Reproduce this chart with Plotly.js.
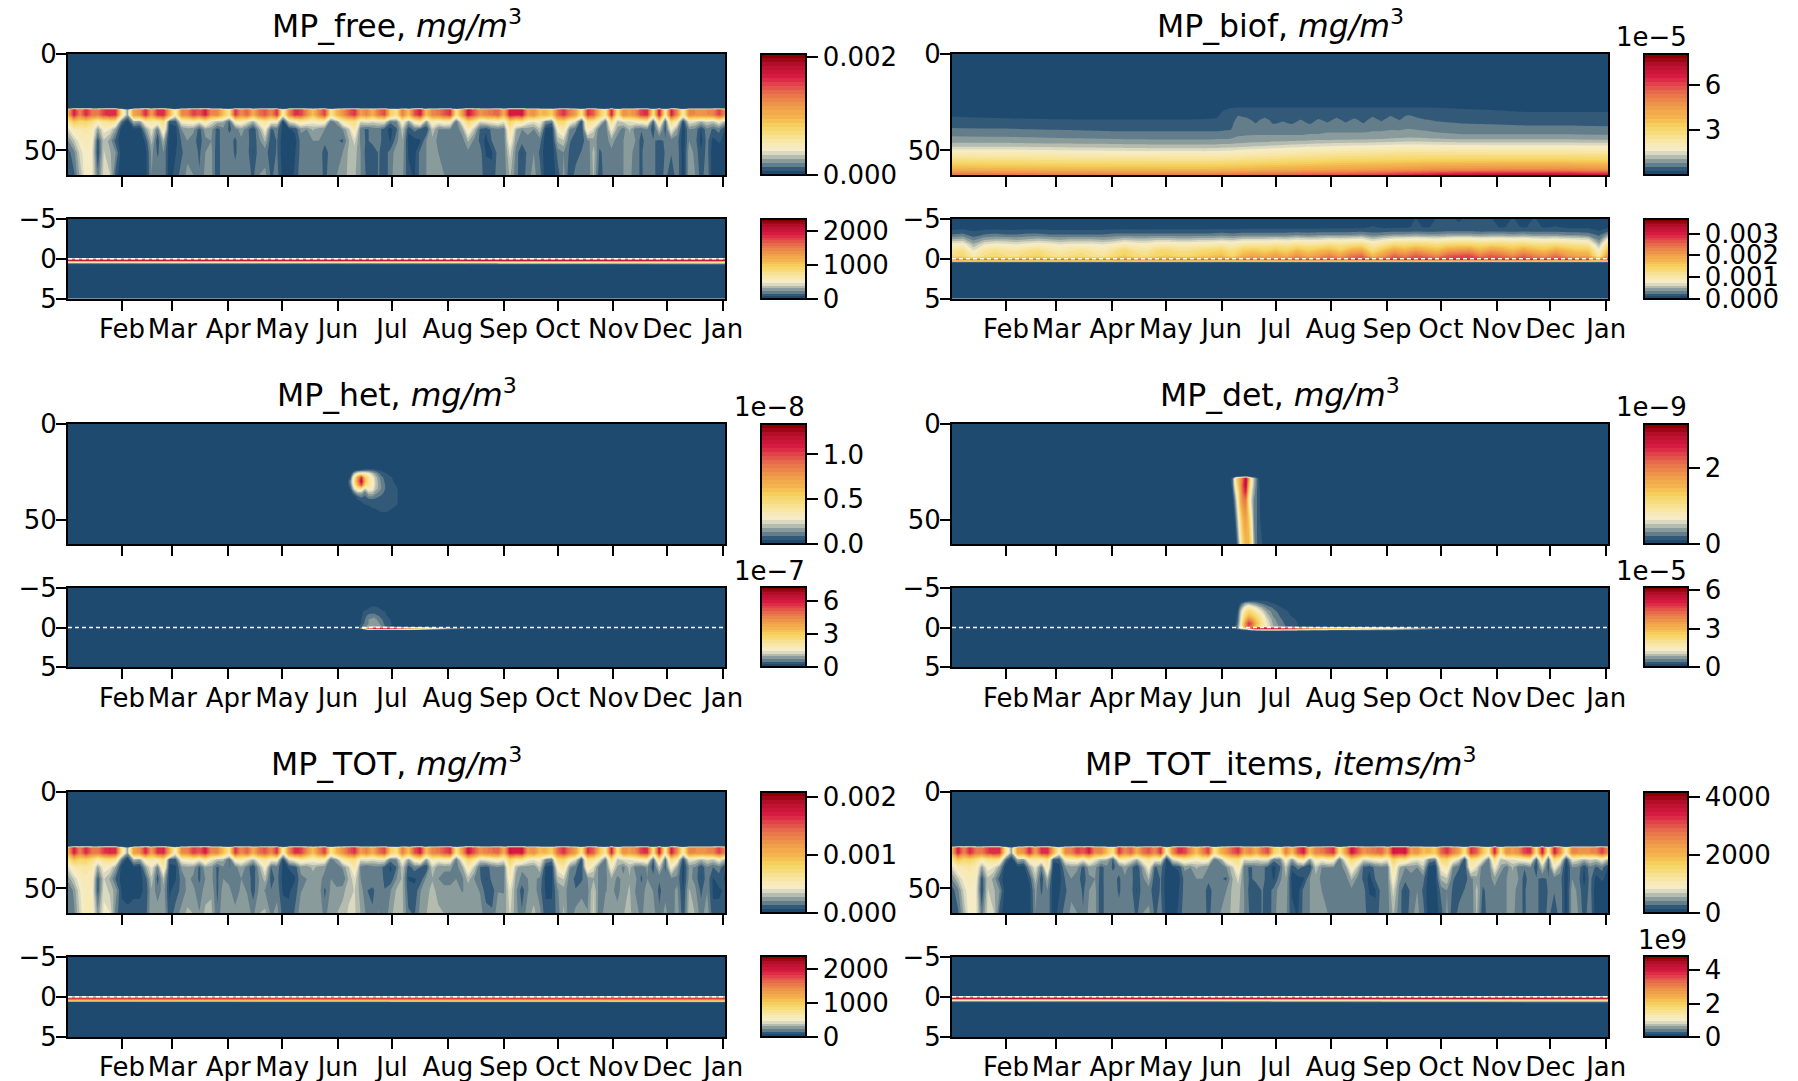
<!DOCTYPE html>
<html><head><meta charset="utf-8">
<script src="https://cdn.plot.ly/plotly-3.0.1.min.js"></script>
<style>html,body{margin:0;padding:0;background:#fff}#c{width:1798px;height:1081px}</style></head>
<body><div id="c"></div>
<script>
// ---------- axis labels ----------
const monthDays=[31,59,90,120,151,181,212,243,273,304,334,365];
const monthNames=['Feb','Mar','Apr','May','Jun','Jul','Aug','Sep','Oct','Nov','Dec','Jan'];

// ---------- water-column MP_free: percent of colour-bar top, 111 time columns ----------
const freeDepths=[0,28.2,29,31.6,35,39,45,51,62.7];
const free30=[50,82,62,80,66,64,76,80,78,30,12,55,58,80,55,78,80,50,22,60,62,76,70,82,60,62,45,30,78,60,70,50,66,72,60,78,22,60,
78,76,60,45,62,76,30,48,58,70,78,55,62,50,66,74,40,32,64,45,72,82,45,62,64,72,78,30,55,84,72,58,62,66,70,50,
84,80,84,55,60,46,48,40,68,78,64,55,30,78,70,45,28,82,30,60,55,60,76,78,30,84,25,82,60,25,62,60,58,60,62,76,60];
const free33=[30,45,38,40,34,25,32,34,30,8,1,14,12,26,28,26,34,4,5,22,24,26,20,30,20,15,14,6,24,26,20,14,24,30,22,22,2,18,
22,28,25,22,26,24,8,12,26,32,34,18,20,18,20,20,8,10,24,12,24,30,12,26,22,26,24,8,22,38,30,18,20,22,24,20,
40,30,32,22,20,22,10,8,36,38,24,18,4,32,30,20,8,34,16,18,20,22,24,26,6,34,6,36,24,3,20,18,14,18,16,22,14];
const free37=[18,26,27,28,26,12,22,20,12,1,0,2,1,12,20,8,28,2,2,10,12,11,5,12,11,5,9,6,8,12,8,3,12,22,6,8,2,3,
4,11,10,14,11,10,7,7,10,16,28,8,6,8,8,5,2,6,16,4,8,6,3,16,10,10,10,8,12,26,16,6,4,8,9,8,
30,14,10,11,10,16,2,1,22,28,10,7,3,26,18,7,7,22,12,8,14,8,7,10,4,16,5,22,12,1,10,9,3,9,6,8,3];
const free43=[10,16,22,25,23,4,16,12,5,1,0,1,1,4,15,4,14,1,2,7,10,8,5,9,10,5,9,8,6,9,8,4,9,14,4,7,1,1,
2,8,9,10,10,8,9,7,6,13,18,9,6,8,8,5,3,9,13,2,2,3,10,12,9,8,8,9,8,14,9,6,2,7,8,8,
24,11,8,9,10,8,1,1,14,16,7,5,5,9,12,8,8,12,8,10,12,10,5,9,7,6,7,8,8,1,10,8,2,8,2,4,2];
const free50=[5,9,18,23,21,3,17,14,10,1,0,1,1,2,11,6,10,1,3,6,9,9,6,10,11,4,10,9,6,9,8,3,9,8,5,7,1,1,
3,8,9,9,10,4,9,9,10,14,15,10,5,4,7,5,8,12,12,3,2,8,10,13,10,9,9,9,8,9,9,8,3,3,8,8,
18,9,3,8,10,6,1,1,8,10,6,5,7,7,15,6,8,9,7,10,12,8,6,10,8,4,7,7,9,1,12,9,4,8,1,1,2];
const free62=[4,6,14,23,21,8,18,17,5,1,1,1,1,2,10,9,10,1,5,8,11,10,7,11,11,4,10,10,8,10,8,6,10,11,6,8,2,1,
4,9,10,10,10,5,10,10,12,14,14,10,6,4,7,4,9,12,11,4,3,8,10,12,11,10,10,10,9,9,9,8,5,4,9,8,
14,8,4,9,11,8,1,1,5,11,4,8,9,7,14,4,9,9,8,10,11,8,6,9,8,4,8,4,9,1,12,10,5,9,1,1,2];
const blank111=free30.map(()=>0);
const freeRows=[blank111,blank111,free30,free30,free33,free37,free43,free50,free62];
const freeDays=free30.map((_,i)=>1+i*365/110);
// biofilm mass added to the total in each row (percent of bar top)
const totExtra=[0,0,0.2,0.2,0.4,0.6,1,1.8,3.2];

// ---------- sediment MP_free / MP_TOT: percent ----------
const surfDays=[1,60,120,180,240,300,366];
const surfDepths=[-5,-0.05,0,0.1,0.2,0.3,0.4,0.5,0.65,0.8,1,5];
const surfFree=[[0,0,0,0,0,0,0],[0,0,0,0,0,0,0],[20,20,20,20,20,20,20],[68,68,68,68,68,68,68],[93,93,93,93,93,93,93],[55,55,56,56,57,57,58],[32,33,34,35,36,37,38],[18,19,20,21,22,23,24],[4,5,5,6,7,7,8],[1,1.5,1.5,2,2.5,3,3.5],[0,0,0,0,0,0,0],[0,0,0,0,0,0,0]];
const surfTot=[[0,0,0,0,0,0,0],[0,0,0,0,0,0,0],[20,20,20,20,20,20,20],[62,62,62,62,62,62,62],[80,80,80,80,80,80,80],[68,68,68,68,68,68,68],[58,58,58,58,59,59,59],[25,26,26,27,27,28,28],[3,4,5,5,6,6,7],[0.5,1,1,1.5,2,2,2.5],[0,0,0,0,0,0,0],[0,0,0,0,0,0,0]];

// ---------- water-column MP_biof: units of 1e-5 ----------
const biofDays=[1,30,60,90,120,140,148,152,156,160,165,170,175,180,185,190,195,200,205,210,215,220,225,230,235,240,245,250,255,260,265,270,285,300,320,345,366];
const biofDepths=[0,26,28,30,32,34,36,38,40,42,44,46,48,50,55,60,62.7];
const biof0=biofDays.map(()=>0.05), biof26=biofDays.map(()=>0.1);
const biof28=[.1,.1,.1,.1,.1,.1,.1,.2,.27,.3,.3,.3,.3,.3,.3,.3,.3,.3,.3,.3,.3,.3,.3,.3,.3,.3,.3,.3,.3,.3,.3,.28,.25,.22,.18,.16,.16];
const biof30=[.14,.13,.12,.12,.12,.13,.15,.3,.35,.38,.36,.35,.36,.35,.35,.35,.35,.36,.35,.35,.36,.36,.36,.36,.37,.37,.38,.38,.39,.38,.36,.35,.33,.32,.27,.27,.27];
const biof32=[.25,.22,.2,.18,.18,.2,.22,.36,.4,.54,.48,.42,.46,.42,.41,.42,.41,.44,.41,.43,.47,.44,.46,.43,.5,.47,.54,.5,.56,.5,.47,.45,.42,.4,.37,.35,.35];
const biof34=[.33,.3,.28,.27,.27,.28,.3,.38,.42,.6,.6,.46,.62,.44,.5,.44,.54,.44,.56,.46,.6,.46,.58,.44,.64,.48,.68,.52,.7,.58,.54,.5,.46,.44,.42,.4,.4];
const biof36=[.43,.41,.38,.36,.36,.37,.39,.42,.45,.68,.66,.54,.66,.52,.58,.52,.62,.52,.62,.56,.66,.56,.64,.54,.7,.6,.72,.62,.76,.68,.64,.6,.54,.52,.49,.49,.47];
const biof38=[.52,.5,.47,.45,.45,.46,.47,.48,.49,.71,.7,.67,.7,.66,.64,.66,.64,.68,.64,.67,.7,.68,.7,.68,.72,.7,.74,.72,.77,.75,.72,.69,.64,.62,.59,.59,.57];
const biof40=[.64,.62,.58,.54,.54,.54,.54,.55,.56,.75,.75,.73,.75,.73,.71,.73,.71,.74,.74,.78,.78,.78,.78,.78,.81,.81,.84,.84,.88,.84,.82,.78,.71,.71,.71,.71,.68];
const biof42=[.77,.75,.71,.68,.64,.64,.66,.66,.68,.78,.8,.81,.81,.81,.81,.81,.81,.84,.84,.87,.87,.87,.87,.87,.9,.9,.94,.94,.97,.94,.92,.9,.84,.84,.84,.84,.82];
const biof44=[.9,.88,.84,.81,.78,.78,.8,.8,.82,.88,.9,.92,.92,.94,.95,.95,.96,.98,1,1,1.02,1.02,1.04,1.04,1.06,1.08,1.1,1.12,1.14,1.14,1.12,1.1,1.05,1.05,1.05,1.05,1];
const biof46=[1.08,1.08,1.02,1,.97,.97,.98,1,1,1.04,1.08,1.1,1.12,1.14,1.16,1.2,1.22,1.24,1.28,1.3,1.32,1.34,1.36,1.36,1.38,1.4,1.42,1.44,1.46,1.46,1.44,1.42,1.38,1.38,1.38,1.38,1.35];
const biof48=[1.35,1.35,1.3,1.25,1.2,1.2,1.22,1.24,1.26,1.3,1.34,1.38,1.4,1.44,1.48,1.52,1.56,1.6,1.62,1.66,1.68,1.7,1.72,1.74,1.76,1.78,1.8,1.82,1.84,1.84,1.82,1.8,1.78,1.76,1.76,1.76,1.72];
const biof50=[1.7,1.7,1.65,1.6,1.55,1.55,1.57,1.6,1.62,1.68,1.72,1.76,1.8,1.84,1.88,1.92,1.96,2,2.02,2.06,2.08,2.1,2.14,2.16,2.18,2.2,2.22,2.24,2.26,2.26,2.24,2.22,2.2,2.18,2.18,2.16,2.12];
const biof55=[2.8,2.75,2.7,2.65,2.62,2.6,2.62,2.64,2.66,2.7,2.74,2.78,2.82,2.86,2.9,2.94,2.98,3,3.04,3.06,3.1,3.12,3.14,3.16,3.18,3.2,3.22,3.24,3.26,3.28,3.3,3.3,3.3,3.3,3.3,3.3,3.25];
const biof60=[4.1,4,3.95,3.9,3.9,3.9,3.9,3.92,3.94,4,4.02,4.06,4.1,4.14,4.18,4.22,4.26,4.3,4.32,4.36,4.4,4.42,4.46,4.5,4.54,4.58,4.62,4.66,4.7,4.74,4.8,4.85,4.9,4.95,5,4.95,4.8];
const biof63=[5.4,5.3,5.2,5.2,5.2,5.2,5.25,5.3,5.3,5.4,5.4,5.45,5.5,5.55,5.6,5.65,5.7,5.75,5.8,5.85,5.9,5.95,6,6.05,6.1,6.2,6.3,6.4,6.5,6.6,6.7,6.8,7,7.1,7.2,7.1,6.8];
const biofRows=[biof0,biof26,biof28,biof30,biof32,biof34,biof36,biof38,biof40,biof42,biof44,biof46,biof48,biof50,biof55,biof60,biof63];

// ---------- sediment MP_biof: percent, 62 time columns ----------
const sedDays=[1,7,13,19,25,31,37,43,49,55,61,67,73,79,85,91,97,103,109,115,121,127,133,139,145,151,157,163,169,175,181,187,193,199,205,211,217,223,229,235,241,247,253,259,265,271,277,283,289,295,301,307,313,319,325,331,337,343,349,355,361,366];
const sedDepths=[-5,-4,-3.6,-3,-2.4,-1.8,-1,-0.3,0,0.12,0.25,0.45,0.6,5];
const sedM5=[0,0,0,0,0,0,0,0,0,0,0,0,0,0,0,0,0,0,0,0,0,0,0,0,0,0,0,0,0,0,0,0,0,0,0,0,0,0,0,2,0,0,0,3.6,0,4,4,3,4,4,3.8,0,4,0,4,0,2,0,0,0,0,0];
const sedM4=[2.5,2.5,2.5,2.5,2.5,2.5,2.5,2.5,2.5,2.5,2.5,2.5,2.5,2.5,2.5,2.5,2.5,2.5,2.5,2.5,2.5,2.5,2.5,2.5,2.5,2.5,2.5,2.5,2.5,2.5,2.5,2.5,2.5,2.5,2.5,2.5,2.5,2.5,2.5,3.6,2.8,2.8,2.8,3.8,3,4,4,3.8,4,4,4,3,4,3,4,3,3.5,2.8,2.8,2.8,2.8,2.8];
const sedM36=[3.4,3.6,3,3.4,3.5,3.4,3.4,3.5,3.5,3.4,3.4,3.4,3.4,3.4,3.4,3.5,3.6,3.5,3.5,3.6,3.6,3.6,3.6,3.6,3.7,3.8,3.7,3.8,3.9,3.9,4,4,4,4,4,4.2,4.2,4.2,4.4,4.2,4.2,4.4,4.4,4.6,4.6,4.6,4.8,4.8,4.8,4.6,4.6,4.6,4.4,4.6,4.4,4.4,4.4,4.2,4.2,4,3,4.4];
const sedM30=[7,8,5,7,8,7,7,8,8,7,7,7,7,7,7,8,8,8,8,8,8,8,8,8,8,9,8,9,9,9,9,9,10,9,10,10,10,10,11,9,10,11,11,12,11,11,12,12,12,11,12,12,11,12,11,11,11,10,10,9,6,12];
const sedM24=[14,15,9,13,14,14,13,14,15,14,13,14,14,14,13,14,16,15,15,16,16,15,15,16,16,17,16,18,18,18,19,18,20,19,19,21,20,21,22,17,20,23,23,24,23,22,24,25,25,23,24,24,23,24,22,21,22,21,20,19,9,22];
const sedM18=[22,23,14,20,22,21,20,22,23,22,20,21,21,21,20,22,25,23,22,25,25,24,24,25,25,27,25,28,29,29,30,29,31,30,30,33,31,33,35,27,31,36,35,37,36,34,37,38,38,36,37,37,35,37,34,33,35,33,31,29,14,34];
const sedM10=[30,34,20,30,33,30,29,33,35,30,27,30,32,29,26,32,38,32,30,36,37,33,33,36,38,40,33,42,44,40,45,40,48,42,46,50,42,52,54,36,46,56,50,58,52,48,56,58,60,50,58,54,48,56,50,46,54,48,44,44,22,48];
const sedM03=[34,38,26,34,37,34,33,37,40,34,31,34,36,33,30,36,42,36,34,40,42,38,38,42,44,47,38,50,54,50,56,50,60,52,58,64,55,66,70,48,58,70,64,72,68,62,72,74,76,66,72,68,62,70,64,60,68,58,54,54,28,60];
const sedZero=[50,52,45,50,52,50,50,52,52,50,50,50,52,50,50,52,55,52,52,55,55,55,55,55,55,58,55,60,62,62,62,62,65,65,65,68,66,70,72,64,68,72,72,74,74,72,74,76,76,74,74,74,72,74,72,70,72,70,68,66,50,70];
const sedP12=[72,74,70,72,74,72,72,72,74,72,72,72,72,72,72,74,74,74,74,74,74,74,74,76,76,76,76,78,78,78,80,80,80,80,82,82,82,84,85,82,84,85,85,86,86,85,86,87,87,86,86,86,85,86,85,84,85,84,83,82,70,84];
const sedP25=sedDays.map(()=>24), sedP45=sedDays.map(()=>6), sedP60=sedDays.map(()=>0), sedP500=sedDays.map(()=>0);
const sedRows=[sedM5,sedM4,sedM36,sedM30,sedM24,sedM18,sedM10,sedM03,sedZero,sedP12,sedP25,sedP45,sedP60,sedP500];

// ---------- MP_het: percent ----------
const hetDays=[1,156,158,160,162,164,166,168,170,172,175,178,181,184,187,366];
const hetDepths=[0,22,24,26,28,30,32,34,36,38,40,42,44,46,48,62.7];
const hetRows=[
[0,0,0,0,0,0,0,0,0,0,0,0,0,0,0,0],[0,0,0,0,0,0,0,0,0,0,0,0,0,0,0,0],
[0,0,0,0,2,3,4,4,4,3.5,2.5,0,0,0,0,0],
[0,0,1,14,22,25,24,22,16,11,5,3.4,0,0,0,0],
[0,0,5,28,55,80,42,30,22,15,8,4.5,3.4,0,0,0],
[0,1,10,30,60,90,48,32,24,16,9,5,3.8,1.5,0,0],
[0,1,8,26,50,75,38,30,24,16,10,5.5,4,3,0,0],
[0,0,4,18,28,30,16,24,22,15,10,5.5,4,3.4,0,0],
[0,0,1,8,14,14,8,15,15,11,8,5,4,3.5,1,0],
[0,0,0,2,6,8,6,10,10,8,6,5,4,3.6,1,0],
[0,0,0,0,3,4,4.5,4.8,5,5,5,4.5,3.8,3.5,1,0],
[0,0,0,0,0,2,3.5,4,4.2,4.4,4.5,4.2,3.8,3.4,.5,0],
[0,0,0,0,0,0,1,2,3.4,3.7,3.8,3.8,3.5,2.5,0,0],
[0,0,0,0,0,0,0,0.5,1,2,3.4,3.4,2.5,0.5,0,0],
[0,0,0,0,0,0,0,0,0,0,0,0,0,0,0,0],[0,0,0,0,0,0,0,0,0,0,0,0,0,0,0,0]];
const hetSedDays=[1,162,165,168,171,174,177,180,183,187,192,197,203,209,220,231,240,366];
const hetSedDepths=[-5,-3,-2.6,-2,-1.5,-1,-0.5,-0.1,0.02,0.1,0.2,0.35,5];
const hetSedRows=[
[0,0,0,0,0,0,0,0,0,0,0,0,0,0,0,0,0,0],[0,0,0,0,0,0,0,0,0,0,0,0,0,0,0,0,0,0],
[0,0,1,3,3.6,3,1,0,0,0,0,0,0,0,0,0,0,0],
[0,0,3.5,4,4.5,4,3.5,1,0,0,0,0,0,0,0,0,0,0],
[0,0,4,8,9,6,4,2,0,0,0,0,0,0,0,0,0,0],
[0,0,5,10,11,9,5,3.5,1,0,0,0,0,0,0,0,0,0],
[0,0,6,10,12,10,6,4,1,0,0,0,0,0,0,0,0,0],
[0,2,8,12,14,12,7,4,1,0,0,0,0,0,0,0,0,0],
[0,2,14,40,50,50,50,45,40,35,28,20,12,8,3,1,0,0],
[0,1,25,80,90,90,92,90,85,75,60,45,30,20,8,3.5,1,0],
[0,0,10,40,45,45,46,45,42,38,30,22,15,10,4,1.5,0,0],
[0,0,0,0,0,0,0,0,0,0,0,0,0,0,0,0,0,0],[0,0,0,0,0,0,0,0,0,0,0,0,0,0,0,0,0,0]];

// ---------- MP_det: percent ----------
const detDays=[1,155,157,158.5,160,161.5,163,164.5,166,167.5,169,170.5,172,173.5,175,366];
const detDepths=[0,27.5,28.5,32,36,40,50,62.7];
const detRows=[
[0,0,0,0,0,0,0,0,0,0,0,0,0,0,0,0],[0,0,0,0,0,0,0,0,0,0,0,0,0,0,0,0],
[0,0,6,25,45,55,70,90,60,25,15,8,3,0,0,0],
[0,0,5,22,40,55,75,90,50,24,14,8,3.5,0,0,0],
[0,0,3,15,30,52,70,80,40,20,12,7,4,1,0,0],
[0,0,1,10,24,50,62,65,32,18,10,7,4,1,0,0],
[0,0,0,4,16,34,50,55,45,25,10,7,4,2,0,0],
[0,0,0,0,8,22,40,48,50,35,12,7,4.5,3.5,0,0]];
const detSedDays=[1,158,160,162,164,166,168,170,173,176,180,184,188,193,200,210,225,240,255,270,290,366];
const detSedDepths=[-5,-3.6,-3.3,-3,-2.5,-2,-1.5,-1,-0.5,-0.1,0.1,0.25,0.4,5];
const detSedRows=[
[0,0,0,0,0,0,0,0,0,0,0,0,0,0,0,0,0,0,0,0,0,0],[0,0,0,0,0,0,0,0,0,0,0,0,0,0,0,0,0,0,0,0,0,0],
[0,0,0,1,3,4,5,5,4,3.4,2,0,0,0,0,0,0,0,0,0,0,0],
[0,0,0,6,12,14,12,10,7,5,3.5,1.5,0,0,0,0,0,0,0,0,0,0],
[0,0,2,12,22,28,24,20,14,9,6,3.5,1.5,0,0,0,0,0,0,0,0,0],
[0,0,3.5,18,30,38,34,28,20,13,8,5,3.5,0,0,0,0,0,0,0,0,0],
[0,0,5,20,36,46,42,36,26,16,9,6,4,1.5,0,0,0,0,0,0,0,0],
[0,0,6,22,45,62,55,44,30,19,11,7,5,3,0,0,0,0,0,0,0,0],
[0,0,8,24,55,78,70,50,34,21,12,8,5,3.5,0,0,0,0,0,0,0,0],
[0,2,10,26,55,75,60,45,30,21,13,9,5.5,3.5,1,0,0,0,0,0,0,0],
[0,0,12,20,25,40,80,90,92,92,92,90,85,80,65,55,40,30,20,8,3.4,0],
[0,0,4,8,10,16,32,40,44,44,44,44,42,40,32,26,20,15,10,4,1.5,0],
[0,0,0,0,0,0,0,0,0,0,0,0,0,0,0,0,0,0,0,0,0,0],[0,0,0,0,0,0,0,0,0,0,0,0,0,0,0,0,0,0,0,0,0,0]];

// ---------- colours ----------
const palette=[[0,'#1f4a70'],[0.03,'#2a5275'],[0.05,'#4f6f84'],[0.085,'#73898f'],[0.125,'#a5b1a9'],[0.17,'#d9d9bf'],[0.21,'#f7eec8'],[0.28,'#f8e6a3'],[0.40,'#f6d45f'],[0.47,'#f4b850'],[0.57,'#ef9a4a'],[0.68,'#e76f4b'],[0.76,'#e0404a'],[0.82,'#d81b42'],[0.92,'#b81030'],[1,'#8b0000']];
const dark='#1f4a70', fontName='"DejaVu Sans", sans-serif', tickSize=26;

// ---------- page geometry (pixels) ----------
const W=1798,H=1081;
const colX=[[68,725,761,805.5],[952,1608,1644,1688]];
const rowY=[[54,175,219,298.5],[423.7,544,587.7,667.3],[792,913,956.5,1037]];

const scale=(rows,k,extra)=>rows.map((r,i)=>r.map(v=>(v+(extra?extra[i]:0))*k));
const panels=[
 {c:0,r:0,title:'MP_free, <i>mg/m</i><sup>3</sup>',
  up:{x:freeDays,y:freeDepths,z:scale(freeRows,0.002056/100),max:0.002056,tv:[0,0.002],tt:['0.000','0.002']},
  low:{x:surfDays,y:surfDepths,z:scale(surfFree,23.67),max:2367,tv:[0,1000,2000],tt:['0','1000','2000']}},
 {c:1,r:0,title:'MP_biof, <i>mg/m</i><sup>3</sup>',expUp:'1e\u22125',
  up:{x:biofDays,y:biofDepths,z:biofRows,max:8.1,tv:[3,6],tt:['3','6']},
  low:{x:sedDays,y:sedDepths,z:scale(sedRows,0.0037/100),max:0.0037,tv:[0,0.001,0.002,0.003],tt:['0.000','0.001','0.002','0.003']}},
 {c:0,r:1,title:'MP_het, <i>mg/m</i><sup>3</sup>',expUp:'1e\u22128',expLow:'1e\u22127',
  up:{x:hetDays,y:hetDepths,z:scale(hetRows,1.34/100),max:1.34,tv:[0,0.5,1],tt:['0.0','0.5','1.0']},
  low:{x:hetSedDays,y:hetSedDepths,z:scale(hetSedRows,7.2/100),max:7.2,tv:[0,3,6],tt:['0','3','6']}},
 {c:1,r:1,title:'MP_det, <i>mg/m</i><sup>3</sup>',expUp:'1e\u22129',expLow:'1e\u22125',
  up:{x:detDays,y:detDepths,z:scale(detRows,3.15/100),max:3.15,tv:[0,2],tt:['0','2']},
  low:{x:detSedDays,y:detSedDepths,z:scale(detSedRows,6.2/100),max:6.2,tv:[0,3,6],tt:['0','3','6']}},
 {c:0,r:2,title:'MP_TOT, <i>mg/m</i><sup>3</sup>',
  up:{x:freeDays,y:freeDepths,z:scale(freeRows,0.00208/100,totExtra),max:0.00208,tv:[0,0.001,0.002],tt:['0.000','0.001','0.002']},
  low:{x:surfDays,y:surfDepths,z:scale(surfTot,23.75),max:2375,tv:[0,1000,2000],tt:['0','1000','2000']}},
 {c:1,r:2,title:'MP_TOT_items, <i>items/m</i><sup>3</sup>',expLow:'1e9',
  up:{x:freeDays,y:freeDepths,z:scale(freeRows,41.55),max:4155,tv:[0,2000,4000],tt:['0','2000','4000']},
  low:{x:surfDays,y:surfDepths,z:scale(surfFree,4.85/100),max:4.85,tv:[0,2,4],tt:['0','2','4']}}
];

const traces=[],layout={width:W,height:H,margin:{l:0,r:0,t:0,b:0},paper_bgcolor:'#fff',plot_bgcolor:dark,showlegend:false,
  font:{family:fontName,size:tickSize,color:'#000'},annotations:[],shapes:[]};
let n=0;
function addAxes(p,part,isLow){
  n++;
  const [x0,x1,cb0,cb1]=colX[p.c],R=rowY[p.r],top=isLow?R[2]:R[0],bot=isLow?R[3]:R[1];
  const xn='xaxis'+(n===1?'':n),yn='yaxis'+(n===1?'':n);
  const common={showline:true,mirror:true,linecolor:'#000',linewidth:2,ticks:'outside',ticklen:10,tickwidth:2,tickcolor:'#000',showgrid:false,zeroline:false,tickfont:{family:fontName,size:tickSize,color:'#000'}};
  layout[xn]=Object.assign({},common,{domain:[x0/W,x1/W],anchor:'y'+n,range:[1,366],tickmode:'array',tickvals:monthDays,ticktext:monthNames,showticklabels:isLow,tickangle:0,ticklabelstandoff:-4});
  layout[yn]=Object.assign({},common,{domain:[1-bot/H,1-top/H],anchor:'x'+n,range:isLow?[5,-5]:[62.7,0],tickmode:'array',
    tickvals:isLow?[-5,0,5]:[0,50],ticktext:isLow?['\u22125','0','5']:['0','50'],ticklabelstandoff:-6});
  const lev=part.max/30;
  traces.push({type:'contour',x:part.x,y:part.y,z:part.z,xaxis:'x'+n,yaxis:'y'+n,colorscale:palette,zmin:0,zmax:part.max,autocontour:false,
    contours:{start:lev,end:part.max-lev*0.999,size:lev,coloring:'fill',showlines:false},line:{width:0,smoothing:0},hoverinfo:'skip',
    colorbar:{x:cb0/W,xanchor:'left',xref:'paper',y:1-bot/H,yanchor:'bottom',yref:'paper',len:(bot-top)/H,lenmode:'fraction',thickness:cb1-cb0,thicknessmode:'pixels',xpad:0,ypad:0,
      outlinewidth:2,outlinecolor:'#000',borderwidth:0,ticks:'outside',ticklen:11,tickwidth:2,tickcolor:'#000',tickmode:'array',tickvals:part.tv,ticktext:part.tt,tickfont:{family:fontName,size:tickSize,color:'#000'}}});
  if(isLow) layout.shapes.push({type:'line',xref:'x'+n,yref:'y'+n,x0:1,x1:366,y0:0,y1:0,layer:'above',line:{color:'#fff',width:1.5,dash:'4px,3px'}});
  const e=isLow?p.expLow:p.expUp;
  if(e) layout.annotations.push({xref:'paper',yref:'paper',x:(cb1+1)/W,y:1-(top-17)/H,xanchor:'right',yanchor:'middle',showarrow:false,text:e,font:{family:fontName,size:tickSize,color:'#000'}});
}
panels.forEach(p=>{
  addAxes(p,p.up,false);addAxes(p,p.low,true);
  const [x0,x1]=colX[p.c];
  layout.annotations.push({xref:'paper',yref:'paper',x:(x0+x1)/2/W,y:1-(rowY[p.r][0]-30)/H,xanchor:'center',yanchor:'middle',showarrow:false,text:p.title,font:{family:fontName,size:31.5,color:'#000'}});
});
traces.forEach(t=>t.z.forEach(r=>{if(r.length!==t.x.length)throw new Error('row length '+r.length+' vs '+t.x.length);}));
Plotly.newPlot('c',traces,layout,{displayModeBar:false,staticPlot:true});
</script></body></html>
